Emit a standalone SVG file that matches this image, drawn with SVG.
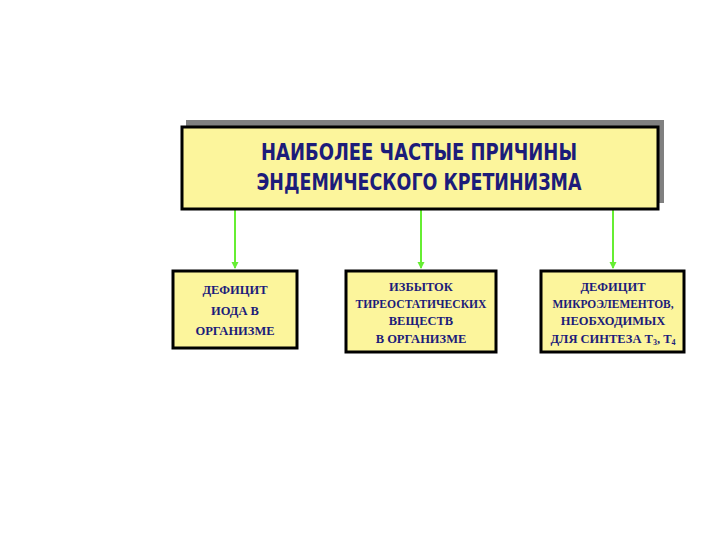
<svg xmlns="http://www.w3.org/2000/svg" width="720" height="540" viewBox="0 0 720 540">
<defs>
<style>
.box{fill:#fcf59c;stroke:#000;stroke-width:3}
.t1{font-family:"DejaVu Sans Condensed","DejaVu Sans",sans-serif;font-weight:bold;font-size:23px;fill:#1c1c7a;text-anchor:middle}
.t2{font-family:"Liberation Serif",serif;font-weight:bold;font-size:12.5px;fill:#1c1c7a;text-anchor:middle}
.conn{stroke:#66ee33;stroke-width:2;fill:none}
</style>
<marker id="arr" markerWidth="8" markerHeight="8" refX="6" refY="4" orient="auto" markerUnits="userSpaceOnUse">
<path d="M0,0.5 L7,4 L0,7.5 Z" fill="#66ee33"/>
</marker>
</defs>
<rect width="720" height="540" fill="#fff"/>
<g id="connectors">
<line class="conn" x1="235" y1="210" x2="235" y2="268" marker-end="url(#arr)"/>
<line class="conn" x1="421" y1="210" x2="421" y2="268" marker-end="url(#arr)"/>
<line class="conn" x1="613" y1="210" x2="613" y2="268" marker-end="url(#arr)"/>
</g>
<g id="top">
<rect x="186" y="120" width="478" height="83" fill="#808080"/>
<rect class="box" x="182" y="127" width="476" height="82"/>
<text class="t1" x="419" y="160" textLength="316" lengthAdjust="spacingAndGlyphs">НАИБОЛЕЕ  ЧАСТЫЕ  ПРИЧИНЫ</text>
<text class="t1" x="419" y="190" textLength="325" lengthAdjust="spacingAndGlyphs">ЭНДЕМИЧЕСКОГО  КРЕТИНИЗМА</text>
</g>
<g id="box1">
<rect class="box" x="173" y="271" width="124" height="77" stroke-width="2.5"/>
<text class="t2" x="235" y="294">ДЕФИЦИТ</text>
<text class="t2" x="235" y="315">ИОДА В</text>
<text class="t2" x="235" y="335">ОРГАНИЗМЕ</text>
</g>
<g id="box2">
<rect class="box" x="346" y="271" width="150" height="81" stroke-width="2.5"/>
<text class="t2" x="421" y="291">ИЗБЫТОК</text>
<text class="t2" x="421" y="308" textLength="131" lengthAdjust="spacingAndGlyphs">ТИРЕОСТАТИЧЕСКИХ</text>
<text class="t2" x="421" y="325">ВЕЩЕСТВ</text>
<text class="t2" x="421" y="343">В ОРГАНИЗМЕ</text>
</g>
<g id="box3">
<rect class="box" x="541" y="271" width="143" height="81" stroke-width="2.5"/>
<text class="t2" x="613" y="291">ДЕФИЦИТ</text>
<text class="t2" x="613" y="308" textLength="121" lengthAdjust="spacingAndGlyphs">МИКРОЭЛЕМЕНТОВ,</text>
<text class="t2" x="613" y="325">НЕОБХОДИМЫХ</text>
<text class="t2" x="613" y="343">ДЛЯ СИНТЕЗА  Т<tspan font-size="8" dy="2">3</tspan><tspan dy="-2">, Т</tspan><tspan font-size="8" dy="2">4</tspan></text>
</g>
</svg>
